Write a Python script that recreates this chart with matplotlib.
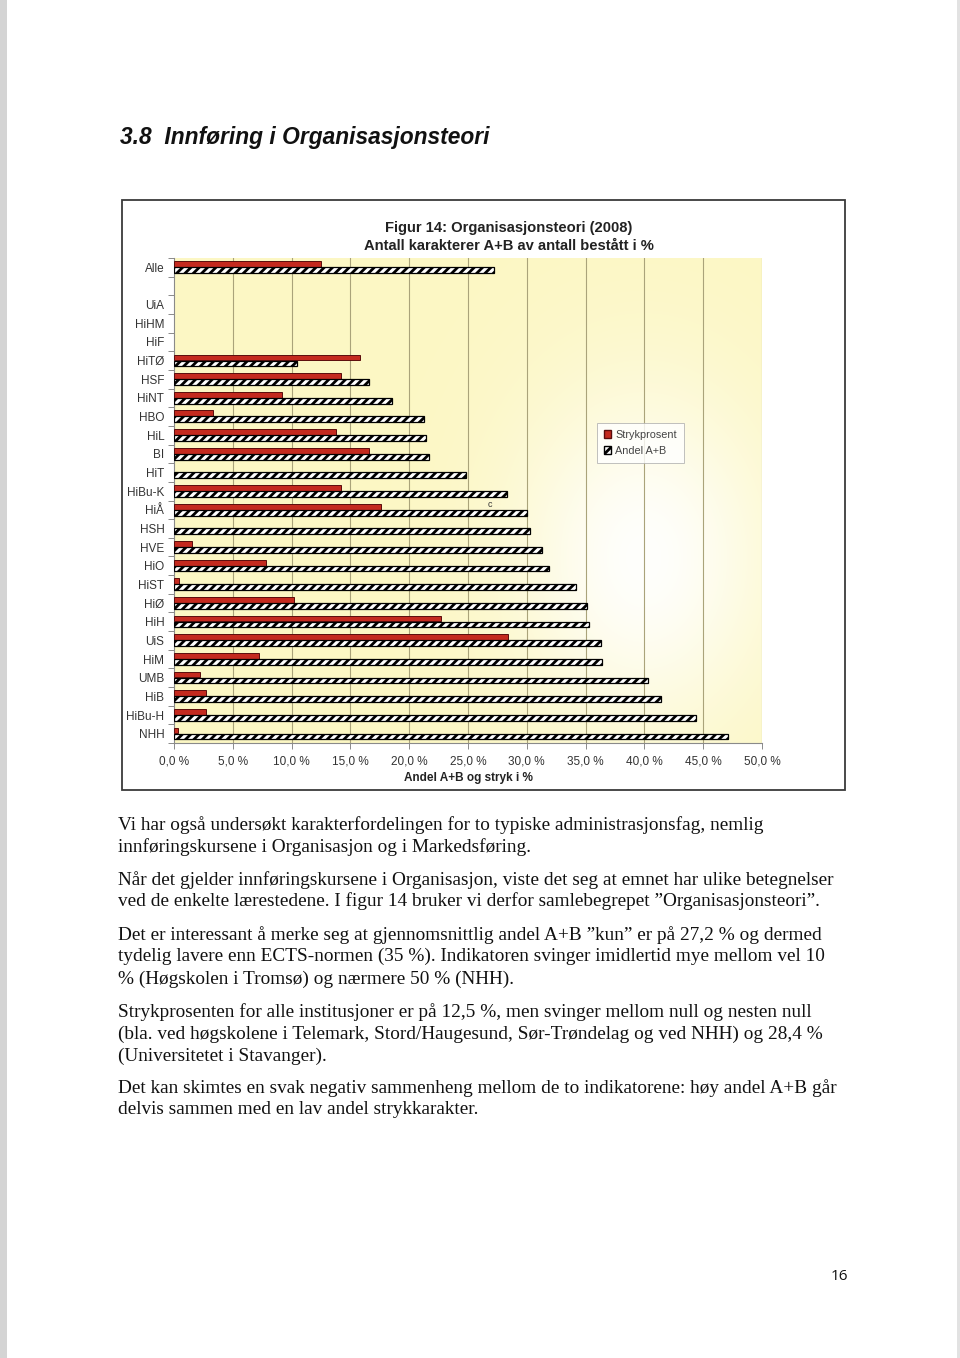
import numpy as np
import matplotlib
matplotlib.use("Agg")
import matplotlib.pyplot as plt
from matplotlib.patches import Rectangle, Patch

# ---------------- data ----------------
categories = ["Alle", "", "UiA", "HiHM", "HiF", "HiTØ", "HSF", "HiNT", "HBO", "HiL",
              "BI", "HiT", "HiBu-K", "HiÅ", "HSH", "HVE", "HiO", "HiST", "HiØ",
              "HiH", "UiS", "HiM", "UMB", "HiB", "HiBu-H", "NHH"]
strykprosent = [12.5, None, None, None, None, 15.8, 14.2, 9.2, 3.3, 13.8,
                16.6, 0.0, 14.2, 17.6, 0.0, 1.5, 7.8, 0.4, 10.2,
                22.7, 28.4, 7.2, 2.2, 2.7, 2.7, 0.3]
andel_ab = [27.2, None, None, None, None, 10.5, 16.6, 18.5, 21.3, 21.4,
            21.7, 24.8, 28.3, 30.0, 30.3, 31.3, 31.9, 34.2, 35.1,
            35.3, 36.3, 36.4, 40.3, 41.4, 44.4, 47.1]
x_ticks = [0, 5, 10, 15, 20, 25, 30, 35, 40, 45, 50]
x_tick_labels = ["0,0 %", "5,0 %", "10,0 %", "15,0 %", "20,0 %", "25,0 %",
                 "30,0 %", "35,0 %", "40,0 %", "45,0 %", "50,0 %"]

heading = "3.8  Innføring i Organisasjonsteori"
title1 = "Figur 14: Organisasjonsteori (2008)"
title2 = "Antall karakterer A+B av antall bestått i %"
xlabel = "Andel A+B og stryk i %"
paragraphs = [
    ["Vi har også undersøkt karakterfordelingen for to typiske administrasjonsfag, nemlig",
     "innføringskursene i Organisasjon og i Markedsføring."],
    ["Når det gjelder innføringskursene i Organisasjon, viste det seg at emnet har ulike betegnelser",
     "ved de enkelte lærestedene. I figur 14 bruker vi derfor samlebegrepet ”Organisasjonsteori”."],
    ["Det er interessant å merke seg at gjennomsnittlig andel A+B ”kun” er på 27,2 % og dermed",
     "tydelig lavere enn ECTS-normen (35 %). Indikatoren svinger imidlertid mye mellom vel 10",
     "% (Høgskolen i Tromsø) og nærmere 50 % (NHH)."],
    ["Strykprosenten for alle institusjoner er på 12,5 %, men svinger mellom null og nesten null",
     "(bla. ved høgskolene i Telemark, Stord/Haugesund, Sør-Trøndelag og ved NHH) og 28,4 %",
     "(Universitetet i Stavanger)."],
    ["Det kan skimtes en svak negativ sammenheng mellom de to indikatorene: høy andel A+B går",
     "delvis sammen med en lav andel strykkarakter."],
]
page_number = "16"

# ---------------- figure ----------------
plt.rcParams["font.family"] = ["Liberation Sans", "DejaVu Sans"]
plt.rcParams["hatch.linewidth"] = 2.0

W, H = 960, 1358
fig = plt.figure(figsize=(W / 100, H / 100), dpi=100)
fig.patch.set_facecolor("white")

def fx(px):
    return px / W

def fy(py):
    return 1 - py / H

# scan shadow on the left edge
fig.patches.append(Rectangle((0, 0), fx(7), 1, transform=fig.transFigure,
                             facecolor="#d4d4d4", edgecolor="none", zorder=0))
fig.patches.append(Rectangle((fx(957), 0), fx(3), 1, transform=fig.transFigure,
                             facecolor="#e2e2e2", edgecolor="none", zorder=0))

# heading
fig.text(fx(120), fy(144), heading, fontsize=16.4, fontweight="bold",
         fontstyle="italic", va="baseline", ha="left", color="#111")

# chart frame
fig.patches.append(Rectangle((fx(122), fy(790)), fx(845) - fx(122), fy(200) - fy(790),
                             transform=fig.transFigure, fill=False,
                             edgecolor="#3a3a3a", linewidth=1.3, zorder=1))

fig.text(fx(509), fy(228), title1, fontsize=10.6, fontweight="bold",
         ha="center", va="center", color="#222")
fig.text(fx(509), fy(246), title2, fontsize=10.6, fontweight="bold",
         ha="center", va="center", color="#222")

ax = fig.add_axes([fx(174), fy(743), fx(762) - fx(174), fy(258) - fy(743)])
n = len(categories)

# background gradient (yellow to white)
gx = np.linspace(0, 1, 300)
gy = np.linspace(0, 1, 300)
GX, GY = np.meshgrid(gx, gy)
d2 = ((GX - 0.80) / 0.26) ** 2 + ((GY - 0.62) / 0.42) ** 2
wmix = np.exp(-d2 * 1.4) * 0.95
yellow = np.array([252, 247, 196]) / 255.0
white = np.array([1.0, 1.0, 1.0])
img = yellow[None, None, :] * (1 - wmix[..., None]) + white[None, None, :] * wmix[..., None]
ax.imshow(img, extent=[0, 50, n - 0.5, -0.5], aspect="auto", zorder=0,
          interpolation="bilinear")
ax.set_xlim(0, 50)
ax.set_ylim(n - 0.5, -0.5)

# grid lines
for xv in x_ticks[1:]:
    ax.axvline(xv, color="#aaa37a", linewidth=0.8, zorder=1)

bh = 0.31
for i in range(n):
    s = strykprosent[i]
    a = andel_ab[i]
    if s is not None and s > 0:
        ax.barh(i - 0.17, s, height=bh, color="#c42a1f", edgecolor="#5a0c0c",
                linewidth=0.7, zorder=3)
    if a is not None:
        ax.barh(i + 0.15, a, height=bh, facecolor="white", edgecolor="black",
                hatch="////", linewidth=0.9, zorder=3)

ax.text(26.9, 12.72, "c", fontsize=6.5, color="#333", ha="center", va="center",
        zorder=4)

# axes styling
for side in ["top", "right"]:
    ax.spines[side].set_visible(False)
for side in ["left", "bottom"]:
    ax.spines[side].set_color("#8a8a8a")
    ax.spines[side].set_linewidth(0.8)

ax.set_yticks(range(n))
ax.set_yticklabels(categories, fontsize=8.5, color="#333")
ax.tick_params(axis="y", which="major", length=0, pad=7)
ax.set_yticks(np.arange(-0.5, n, 1), minor=True)
ax.tick_params(axis="y", which="minor", length=4, color="#8a8a8a", width=0.7)

ax.set_xticks(x_ticks)
ax.set_xticklabels(x_tick_labels, fontsize=8.5, color="#333")
ax.tick_params(axis="x", which="major", length=4, color="#8a8a8a", width=0.7, pad=5)
ax.set_xlabel(xlabel, fontsize=8.5, fontweight="bold", color="#222", labelpad=3)

legend_handles = [
    Patch(facecolor="#c42a1f", edgecolor="#5a0c0c", label="Strykprosent"),
    Patch(facecolor="white", edgecolor="black", hatch="////", label="Andel A+B"),
]
leg = ax.legend(handles=legend_handles, loc="upper left",
                bbox_to_anchor=((597 - 174) / 588, 1 - (423 - 258) / 485),
                borderaxespad=0, fontsize=7.8, frameon=True, fancybox=False,
                handlelength=0.7, handleheight=0.7, handletextpad=0.4,
                labelspacing=0.6, borderpad=0.6)
leg.get_frame().set_edgecolor("#b0b0b0")
leg.get_frame().set_linewidth(0.7)
leg.get_frame().set_facecolor("white")
for t in leg.get_texts():
    t.set_color("#444")

# body text
serif = ["Liberation Serif", "DejaVu Serif"]
line_y = [825, 847, 880, 901, 935, 956, 979, 1012, 1034, 1056, 1088, 1110]
k = 0
for para in paragraphs:
    for line in para:
        fig.text(fx(118), fy(line_y[k]), line, fontsize=13.9, family=serif,
                 ha="left", va="center", color="#111")
        k += 1

fig.text(fx(839), fy(1277), page_number, fontsize=11, family=["Open Sans", "DejaVu Sans"],
         ha="center", va="center", color="#111")

fig.savefig("out.png", dpi=100)
